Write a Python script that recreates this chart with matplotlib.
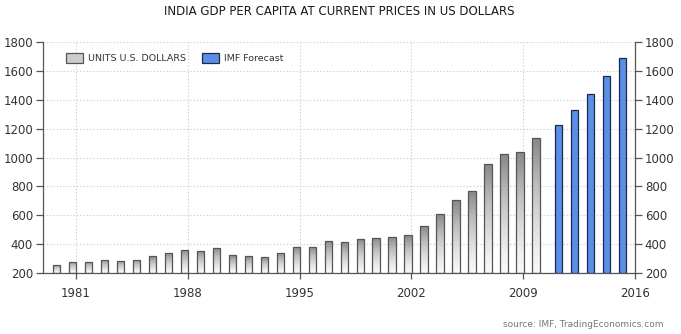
"""India GDP per capita at current prices (USD), actual + IMF forecast bars."""

import matplotlib

matplotlib.use("Agg")
import matplotlib.pyplot as plt
import numpy as np
from matplotlib.patches import Patch

# data
years_actual = list(range(1980, 2011))
gdp_actual = [
    259, 278, 278, 294, 287, 294, 317, 342, 359, 352,
    375, 324, 317, 310, 342, 382, 382, 423, 414, 437,
    446, 453, 462, 527, 610, 704, 769, 957, 1026, 1036,
    1133,
]
years_forecast = [2011, 2012, 2013, 2014, 2015]
gdp_forecast = [1222, 1328, 1439, 1561, 1690]

xticks = [1981, 1988, 1995, 2002, 2009, 2016]
yticks = [200, 400, 600, 800, 1000, 1200, 1400, 1600, 1800]

TEXT = "#333333"
GRID = "#cfcfcf"


def _gradient_bars(ax, bars):
    grad = np.linspace(0, 1, 256).reshape(-1, 1)
    for b in bars:
        x0, y0 = b.get_x(), b.get_y()
        w, h = b.get_width(), b.get_height()
        im = ax.imshow(
            grad,
            extent=(x0, x0 + w, y0, y0 + h),
            origin="lower",
            cmap="Greys",
            vmin=-0.1,
            vmax=1.9,
            aspect="auto",
            zorder=2,
        )
        im.set_clip_path(b)


fig = plt.figure(figsize=(6.81, 3.34), dpi=100)
ax = fig.add_axes((0.0627, 0.1817, 0.8698, 0.6934))

bars = ax.bar(
    np.array(years_actual) - 0.21,
    np.array(gdp_actual) - 200,
    bottom=200,
    width=0.46,
    facecolor="none",
    edgecolor="#555555",
    linewidth=0.9,
    zorder=3,
)
_gradient_bars(ax, bars)

ax.bar(
    np.array(years_forecast) + 0.2,
    np.array(gdp_forecast) - 200,
    bottom=200,
    width=0.46,
    facecolor="#5b8ee6",
    edgecolor="#1c2a4a",
    linewidth=0.9,
    zorder=3,
)

ax.set_xlim(1978.91, 2016.0)
ax.set_ylim(200, 1800)
ax.set_xticks(xticks)
ax.set_yticks(yticks)
ax.grid(True, linestyle=(0, (1.2, 1.8)), color=GRID, linewidth=0.8, zorder=0)
ax.set_axisbelow(True)

ax.spines["top"].set_visible(False)
for side in ("left", "right", "bottom"):
    ax.spines[side].set_color("#555555")
    ax.spines[side].set_linewidth(0.9)

ax.tick_params(axis="y", which="both", left=True, right=True, labelleft=True,
               labelright=True, direction="out", length=5, width=0.9,
               color="#555555", labelsize=8.5, labelcolor=TEXT, pad=2)
ax.tick_params(axis="x", direction="out", length=4, width=0.9, color="#555555",
               labelsize=8.5, labelcolor=TEXT, pad=6)

handles = [
    Patch(facecolor="#cccccc", edgecolor="#555555", linewidth=0.9, label="UNITS U.S. DOLLARS"),
    Patch(facecolor="#5b8ee6", edgecolor="#1c2a4a", linewidth=0.9, label="IMF Forecast"),
]
ax.legend(
    handles=handles,
    loc="upper left",
    bbox_to_anchor=(0.0393, 0.951),
    ncol=2,
    frameon=False,
    fontsize=6.8,
    handlelength=1.8,
    handleheight=1.2,
    handletextpad=0.55,
    columnspacing=1.7,
    borderpad=0,
    borderaxespad=0,
    labelcolor=TEXT,
)

fig.text(0.498, 0.965, "INDIA GDP PER CAPITA AT CURRENT PRICES IN US DOLLARS",
         ha="center", va="center", fontsize=8.5, color="#1a1a1a",
         family=["Liberation Sans Narrow", "DejaVu Sans"])
fig.text(0.975, 0.028, "source: IMF, TradingEconomics.com", ha="right", va="center",
         fontsize=6.5, color="#777777")

fig.savefig("out.png", dpi=100)
